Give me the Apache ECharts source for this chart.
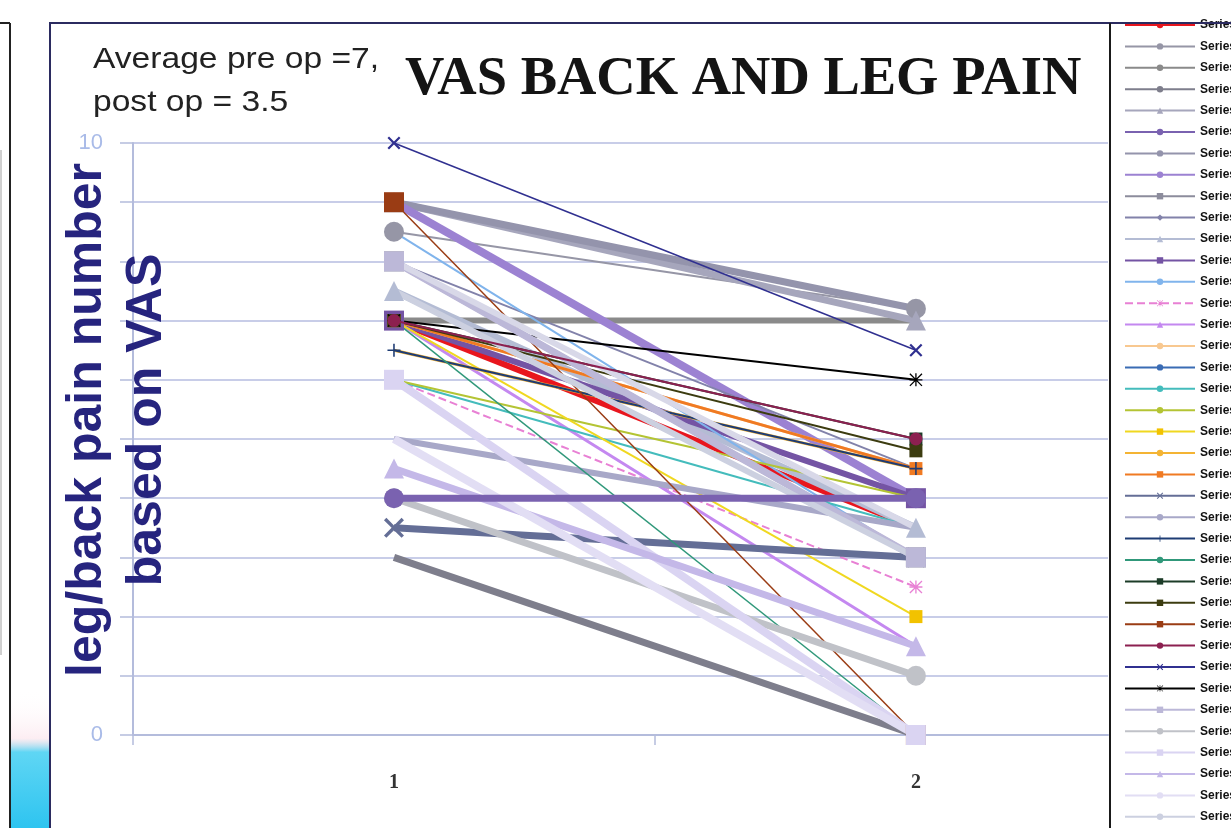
<!DOCTYPE html>
<html><head><meta charset="utf-8">
<script src="https://cdn.jsdelivr.net/npm/echarts@6/dist/echarts.min.js"></script>
<style>html,body{margin:0;padding:0;background:#fff}#c{width:1231px;height:828px}</style>
</head><body><div id="c"></div>
<script>
// ---------- DATA ----------
const timePoints = [1, 2];
const xTickLabels = ['1', '2'];
const yTickLabels = [0, 10];
const seriesNames = ['Series1','Series2','Series3','Series4','Series5','Series6','Series7','Series8','Series9','Series10',
  'Series11','Series12','Series13','Series14','Series15','Series16','Series17','Series18','Series19','Series20',
  'Series21','Series22','Series23','Series24','Series25','Series26','Series27','Series28','Series29','Series30',
  'Series31','Series32','Series33','Series34','Series35','Series36','Series37','Series38','Series39'];
const preOp  = [7, 8.5, 7, 3, 9, 4, 9, 9, 8, 8, 7.5, 7, 8.5, 6, 7, 7, 8, 6, 6, 7, 6.5, 7, 3.5, 5, 6.5, 7, 7, 7, 9, 7, 10, 7, 8, 4, 6, 4.5, 5, 7.5, 8];
const postOp = [3.5, 7.2, 7, 0, 7, 4, 7.2, 4, 3, 4.5, 3.5, 4, 3, 2.5, 1.5, 4.5, 3, 3.5, 4, 2, 4.5, 4.5, 3, 3.5, 4.5, 0, 5, 4.8, 0, 5, 6.5, 6, 3, 1, 0, 1.5, 0, 3, 3.5];

// ---------- STYLE ----------
const lineColors = ['#e8161e','#9696a6','#8a8a8a','#7e7e8c','#a6a6bc','#7a62b0','#9494ac','#9c82d2','#8c8c9c','#8282aa',
  '#b4bcd4','#7454a4','#80b4ec','#e880d4','#c488f0','#f8c890','#3a6cb4','#44bcbc','#b4c434','#f0d820',
  '#f4b434','#f07a22','#646e96','#a8a8c8','#1e3c74','#30987a','#1c3c28','#3c3c10','#9a3c14','#8c2050',
  '#303090','#000000','#bcb8d8','#c0c2c8','#dad4f2','#c4b8e8','#e2def4','#ccd0e0','#d8d8e8'];
const lineWidths = [6,2,6,7,7,7,7,8,6,2, 7,6,2,2,3,3,2,2,2,2, 3,3,7,6,2,1.5,2,2,1.5,2, 1.5,2,7,7,8,7,8,6,6];
const X = 'path://M0,0.12L0.12,0L0.5,0.38L0.88,0L1,0.12L0.62,0.5L1,0.88L0.88,1L0.5,0.62L0.12,1L0,0.88L0.38,0.5Z';
const PLUS = 'path://M0.44,0H0.56V0.44H1V0.56H0.56V1H0.44V0.56H0V0.44H0.44Z';
const AST = 'path://M0.45,0H0.55V1H0.45Z M0,0.45H1V0.55H0Z M0.07,0L1,0.93L0.93,1L0,0.07Z M0.93,0L1,0.07L0.07,1L0,0.93Z';
const markers = ['none','circle','none','none','triangle','circle','none','none','rect','diamond',
  'triangle','rect','none',AST,'triangle','none','none','none','none','rect',
  'none','rect',X,'none',PLUS,'none','rect','rect','rect','circle',
  X,AST,'rect','circle','rect','triangle','none','none','none'];
const dashed = [13];
const bigMarkers = [1, 28];
const onTop = [5, 29];

const series = seriesNames.map((name, i) => ({
  name, type: 'line',
  z: onTop.includes(i) ? 3 : 2,
  data: timePoints.map((t, j) => [t, [preOp, postOp][j][i]]),
  symbol: markers[i],
  symbolSize: (lineWidths[i] >= 5 || bigMarkers.includes(i)) ? 20 : 13,
  showSymbol: markers[i] !== 'none',
  lineStyle: { color: lineColors[i], width: lineWidths[i], type: dashed.includes(i) ? 'dashed' : 'solid', cap: 'butt' },
  itemStyle: { color: i === 19 ? '#f2c200' : lineColors[i], borderWidth: 0 },
  emphasis: { disabled: true },
  silent: true
}));

const chart = echarts.init(document.getElementById('c'), null, { renderer: 'canvas' });
chart.setOption({
  animation: false,
  backgroundColor: '#ffffff',
  grid: { left: 133, top: 143, right: 123, bottom: 93, containLabel: false },
  xAxis: {
    type: 'value', min: 0.5, max: 2.368,
    axisLine: { show: true, lineStyle: { color: '#b4bcdc', width: 2 } },
    axisTick: { show: true, customValues: [0.5, 1.5], length: 10, lineStyle: { color: '#b4bcdc', width: 1.5 } },
    axisLabel: { customValues: timePoints, formatter: v => xTickLabels[timePoints.indexOf(v)] || '',
      fontFamily: 'Liberation Serif', fontWeight: 'bold', fontSize: 20, color: '#333', margin: 38 },
    splitLine: { show: false }
  },
  yAxis: {
    type: 'value', min: 0, max: 10, interval: 1,
    axisLine: { show: true, lineStyle: { color: '#b4bcdc', width: 2 } },
    axisTick: { show: true, length: 13, lineStyle: { color: '#b4bcdc', width: 1.5 } },
    axisLabel: { customValues: yTickLabels, color: '#a9bbe8', fontSize: 22, fontFamily: 'Liberation Sans', margin: 30 },
    splitLine: { show: true, lineStyle: { color: '#c8cde8', width: 2 } }
  },
  legend: {
    orient: 'vertical', left: 1124, top: 18, padding: 0,
    itemWidth: 70, itemHeight: 8, itemGap: 7.4, selectedMode: false,
    lineStyle: { width: 2 },
    textStyle: { fontSize: 12, fontWeight: 'bold', color: '#111', lineHeight: 14, fontFamily: 'Liberation Sans' },
    data: seriesNames
  },
  series,
  graphic: [
    { type: 'rect', z: 100, shape: { x: 50, y: 23, width: 1300, height: 900 }, style: { fill: 'none', stroke: '#2b2b60', lineWidth: 2 } },
    { type: 'line', z: 100, shape: { x1: 1110, y1: 23, x2: 1110, y2: 828 }, style: { stroke: '#1a1a1a', lineWidth: 2 } },
    { type: 'rect', z: 99, shape: { x: 11, y: 690, width: 38, height: 138 },
      style: { fill: new echarts.graphic.LinearGradient(0, 0, 0, 1, [
        { offset: 0, color: 'rgba(255,255,255,0)' }, { offset: 0.35, color: 'rgba(250,220,230,0.5)' },
        { offset: 0.45, color: '#5fd6f4' }, { offset: 1, color: '#2ec4f0' }]) } },
    { type: 'line', z: 100, shape: { x1: 10, y1: 23, x2: 10, y2: 828 }, style: { stroke: '#222', lineWidth: 2 } },
    { type: 'line', z: 100, shape: { x1: 0, y1: 23, x2: 10, y2: 23 }, style: { stroke: '#222', lineWidth: 2 } },
    { type: 'line', z: 100, shape: { x1: 1, y1: 150, x2: 1, y2: 655 }, style: { stroke: '#a0a0a0', lineWidth: 1 } },
    { type: 'text', z: 100, x: 93, y: 38, scaleX: 1.12,
      style: { text: 'Average pre op =7,\npost op = 3.5', fontFamily: 'Liberation Sans', fontSize: 30, lineHeight: 43, fill: '#222' } },
    { type: 'text', z: 100, x: 405, y: 80,
      style: { text: 'VAS BACK AND LEG PAIN', fontFamily: 'Liberation Serif', fontWeight: 'bold', fontSize: 54.5,
        fill: '#141414', textAlign: 'left', textVerticalAlign: 'middle' } },
    { type: 'text', z: 100, x: 117, y: 420, rotation: Math.PI / 2,
      style: { text: 'leg/back pain number\nbased on VAS', fontFamily: 'Liberation Sans', fontWeight: 'bold', fontSize: 50,
        lineHeight: 60, fill: '#26247e', textAlign: 'center', textVerticalAlign: 'middle' } }
  ]
});
</script></body></html>
